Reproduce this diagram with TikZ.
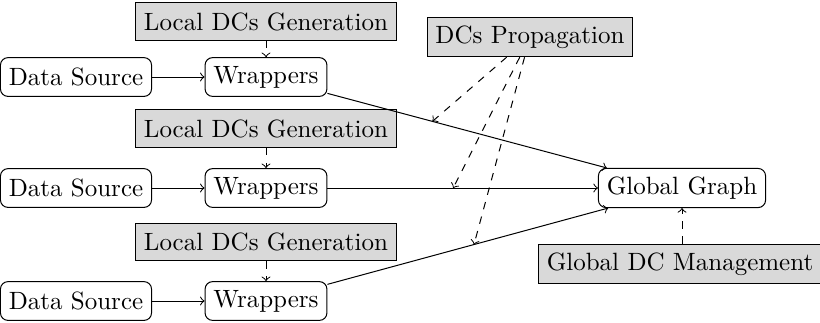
\documentclass[tikz,border=0pt]{standalone}
\usetikzlibrary{calc}
\begin{document}
\begin{tikzpicture}[x=0.4pt,y=-0.4pt,
  rnd/.style={draw,rounded corners=3pt,minimum height=15.5pt,inner sep=3.333pt},
  gbox/.style={draw,fill=gray!30,minimum height=15pt,inner sep=3.333pt},
  flow/.style={->},
  dflow/.style={->,dashed}]
\useasboundingbox (0,0) rectangle (820,322);
\node[gbox] (L1) at (266,21.5) {Local DCs Generation};
\node[rnd] (W1) at (266,77) {Wrappers};
\node[rnd] (D1) at (76,77) {Data Source};
\node[gbox] (L2) at (266,128.5) {Local DCs Generation};
\node[rnd] (W2) at (266,188) {Wrappers};
\node[rnd] (D2) at (76,188) {Data Source};
\node[gbox] (L3) at (266,242) {Local DCs Generation};
\node[rnd] (W3) at (266,301) {Wrappers};
\node[rnd] (D3) at (76,301) {Data Source};
\node[rnd] (GG) at (682,188) {Global Graph};
\node[gbox] (P) at (530,37) {DCs Propagation};
\node[gbox] (M) at (680,264) {Global DC Management};
\draw[flow] (D1) -- (W1);
\draw[flow] (D2) -- (W2);
\draw[flow] (D3) -- (W3);
\draw[dflow] (L1) -- (W1);
\draw[dflow] (L2) -- (W2);
\draw[dflow] (L3) -- (W3);
\draw[flow] (W1) -- (GG);
\draw[flow] (W2) -- (GG);
\draw[flow] (W3) -- (GG);
\coordinate (c1) at ($(W1)!0.40!(GG)$);
\coordinate (c2) at ($(W2)!0.45!(GG)$);
\coordinate (c3) at ($(W3)!0.50!(GG)$);
\draw[dflow] (P) -- (c1);
\draw[dflow] (P) -- (c2);
\draw[dflow] (P) -- (c3);
\draw[dflow] (M.north -| GG) -- (GG);
\end{tikzpicture}
\end{document}
